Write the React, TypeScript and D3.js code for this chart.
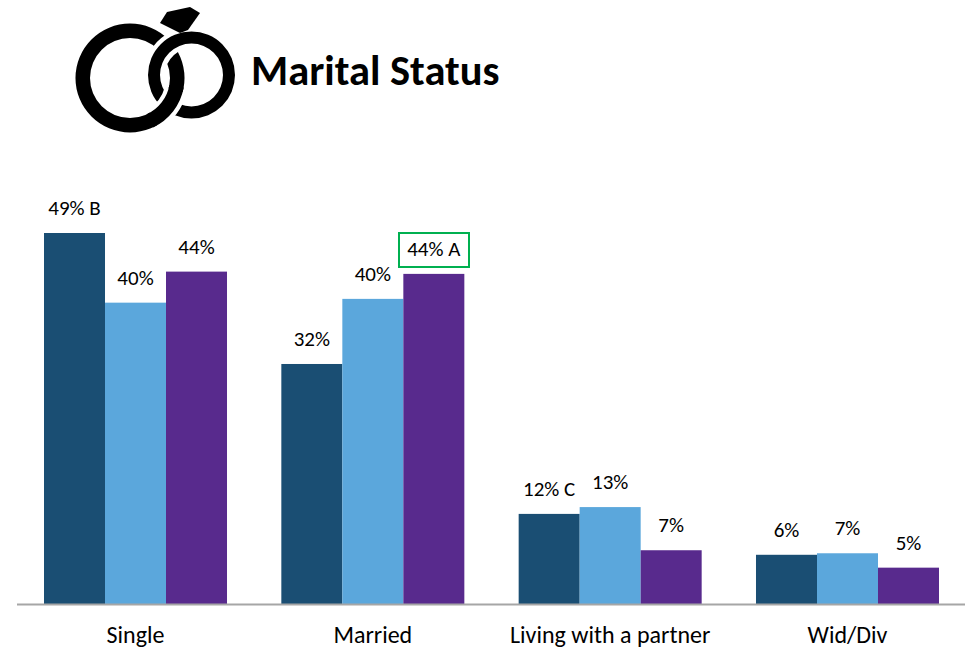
import React from "react";
import * as d3 from "d3";

const categories = ["Single", "Married", "Living with a partner", "Wid/Div"];
const seriesNames = ["A", "B", "C"];
const seriesA = [49, 31.7, 11.9, 6.5];
const seriesB = [39.8, 40.3, 12.8, 6.7];
const seriesC = [43.9, 43.6, 7.1, 4.8];
const labelsA = ["49% B", "32%", "12% C", "6%"];
const labelsB = ["40%", "40%", "13%", "7%"];
const labelsC = ["44%", "44% A", "7%", "5%"];
const colors = ["#1a4e73", "#5ba7dc", "#582a8d"];
const title = "Marital Status";
const font = "Carlito, Lato, sans-serif";

const allValues = [seriesA, seriesB, seriesC];
const allLabels = [labelsA, labelsB, labelsC];

export default function App() {
  const x0 = d3.scaleBand<string>().domain(categories).range([44, 939]).paddingInner(0.2289).paddingOuter(0);
  const x1 = d3.scaleBand<string>().domain(seriesNames).range([0, x0.bandwidth()]);
  const y = d3.scaleLinear().domain([0, 49]).range([604, 233]);
  const deg = Math.PI / 180;
  const arc = (r0: number, r1: number, a0: number, a1: number) =>
    d3.arc()({ innerRadius: r0, outerRadius: r1, startAngle: a0 * deg, endAngle: a1 * deg } as any) || "";
  const L = "translate(130,78)";
  const R = "translate(191.5,75)";
  return (
    <svg width={965} height={652} style={{ position: "absolute", left: 0, top: 0, background: "#fff" }}>
      <g fill="#000">
        <path d={arc(40, 54.5, 0, 360)} transform={L} />
        <path d={arc(26.5, 47.5, 295, 345)} transform={R} fill="#fff" />
        <path d={arc(31.5, 43.5, 0, 360)} transform={R} />
        <path d={arc(36, 58.5, 105, 150)} transform={L} fill="#fff" />
        <path d={arc(40, 54.5, 100, 155)} transform={L} />
        <polygon points="160,23 167,12 190,7 200,13 188,30 180,33" />
      </g>
      <text x={251} y={85} fontFamily={font} fontWeight={700} fontSize={42.5} fill="#000">{title}</text>
      {categories.map((c, i) => (
        <g key={c} transform={`translate(${x0(c)},0)`}>
          {seriesNames.map((s, j) => (
            <g key={s}>
              <rect x={x1(s)} y={y(allValues[j][i])} width={x1.bandwidth()} height={604 - y(allValues[j][i])} fill={colors[j]} />
              <text x={(x1(s) as number) + x1.bandwidth() / 2} y={y(allValues[j][i]) - 18} textAnchor="middle" fontFamily={font} fontSize={21} fill="#000">
                {allLabels[j][i]}
              </text>
            </g>
          ))}
          <text x={x0.bandwidth() / 2} y={643} textAnchor="middle" fontFamily={font} fontSize={24} fill="#000">{c}</text>
        </g>
      ))}
      <line x1={17} x2={965} y1={604.5} y2={604.5} stroke="#a6a6a6" strokeWidth={2} />
      <rect x={399} y={233} width={70} height={34} fill="none" stroke="#00b050" strokeWidth={2} />
    </svg>
  );
}
